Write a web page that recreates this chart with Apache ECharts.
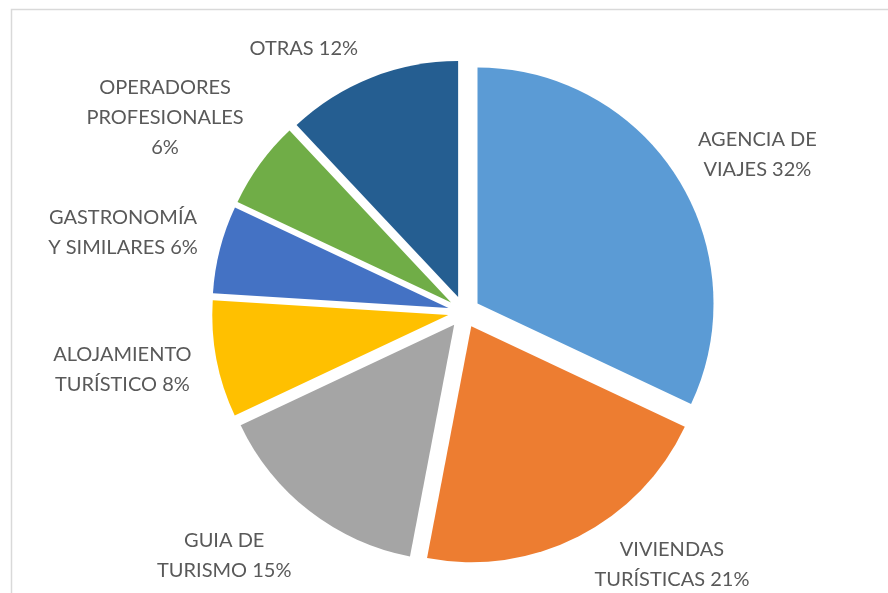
<!DOCTYPE html>
<html><head><meta charset="utf-8">
<script src="https://cdn.jsdelivr.net/npm/echarts@6/dist/echarts.min.js"></script>
<style>html,body{margin:0;padding:0;background:#fff}#c{width:888px;height:593px}</style>
</head><body><div id="c"></div>
<script>
const categories = ["AGENCIA DE\nVIAJES", "VIVIENDAS\nTURÍSTICAS", "GUIA DE\nTURISMO", "ALOJAMIENTO\nTURÍSTICO", "GASTRONOMÍA\nY SIMILARES", "OPERADORES\nPROFESIONALES", "OTRAS"];
const values = [32, 21, 15, 8, 6, 6, 12];
const labelSeparators = [" ", " ", " ", " ", " ", "\n", " "];
const colors = ["#5B9BD5", "#ED7D31", "#A5A5A5", "#FFC000", "#4472C4", "#70AD47", "#255E91"];
const lineLen = [41, 32, 56, 53, 66, 78, 31];
const lineLen2 = [41, 74, 46, 37, 28, 27, 51];

const chart = echarts.init(document.getElementById('c'), null, {renderer: 'canvas'});
const data = categories.map((n, i) => ({
  name: n, value: values[i], selected: true,
  itemStyle: {color: colors[i]},
  labelLine: {show: false, length: lineLen[i], length2: lineLen2[i]}
}));
chart.setOption({
  animation: false,
  graphic: [{type: 'rect', shape: {x: 11.5, y: 9.5, width: 900, height: 600}, style: {fill: 'none', stroke: '#d9d9d9', lineWidth: 1.5}, silent: true}],
  series: [{
    type: 'pie',
    center: [464, 312],
    radius: [0, 236],
    startAngle: 90,
    clockwise: true,
    selectedMode: 'multiple',
    selectedOffset: 16,
    avoidLabelOverlap: false,
    emphasis: {disabled: true},
    select: {itemStyle: {}},
    label: {
      show: true, position: 'outside',
      color: '#595959', fontFamily: 'Lato', fontSize: 20, lineHeight: 30,
      formatter: p => p.name + labelSeparators[p.dataIndex] + p.value + '%'
    },
    labelLayout: () => ({align: 'center', verticalAlign: 'middle'}),
    data: data
  }]
});
</script></body></html>
